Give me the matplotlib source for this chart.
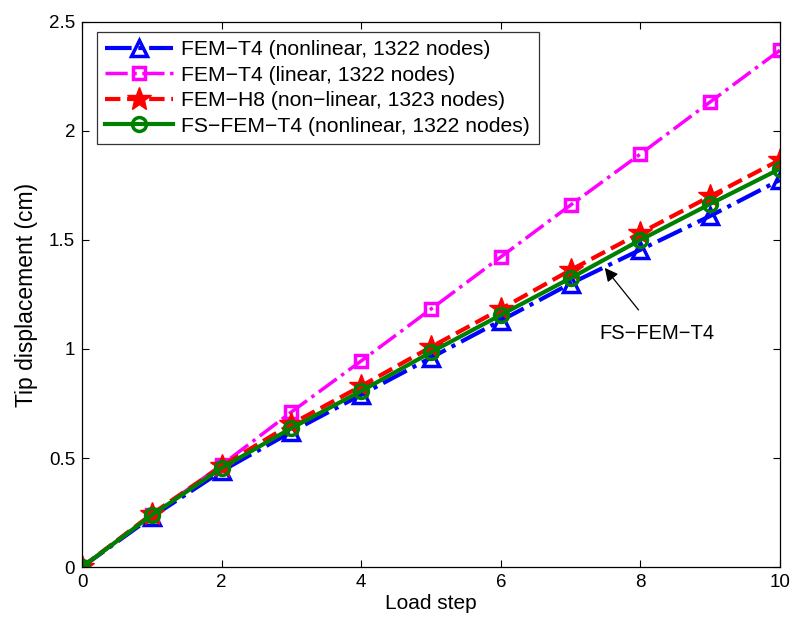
import matplotlib
matplotlib.use("Agg")
import matplotlib.pyplot as plt
import numpy as np

plt.rcParams['font.family'] = ['Liberation Sans', 'DejaVu Sans']

load_step = [0, 1, 2, 3, 4, 5, 6, 7, 8, 9, 10]
fem_t4_nonlinear = [0.0, 0.23, 0.44, 0.62, 0.79, 0.96, 1.13, 1.30, 1.455, 1.61, 1.775]
fem_t4_linear = [0.0, 0.237, 0.468, 0.711, 0.945, 1.183, 1.422, 1.66, 1.894, 2.133, 2.37]
fem_h8_nonlinear = [0.0, 0.243, 0.463, 0.656, 0.83, 1.009, 1.183, 1.362, 1.532, 1.70, 1.867]
fs_fem_t4 = [0.0, 0.238, 0.454, 0.637, 0.807, 0.985, 1.156, 1.325, 1.50, 1.665, 1.826]

labels = [
    "FEM\u2212T4 (nonlinear, 1322 nodes)",
    "FEM\u2212T4 (linear, 1322 nodes)",
    "FEM\u2212H8 (non\u2212linear, 1323 nodes)",
    "FS\u2212FEM\u2212T4 (nonlinear, 1322 nodes)",
]

fig = plt.figure(figsize=(7.91, 6.28), dpi=100)
ax = fig.add_axes([0.1037, 0.0971, 0.8823, 0.868])

ax.plot(load_step, fem_t4_nonlinear, color='blue', linestyle='-.', linewidth=3,
        marker='^', markersize=12, markerfacecolor='none', markeredgewidth=2.5,
        label=labels[0])
ax.plot(load_step, fem_t4_linear, color='magenta', linestyle='-.', linewidth=2.5,
        marker='s', markersize=8.5, markerfacecolor='none', markeredgewidth=2.5,
        label=labels[1])
ax.plot(load_step, fem_h8_nonlinear, color='red', linestyle='--', linewidth=3,
        marker='*', markersize=18, markerfacecolor='red', markeredgecolor='red',
        label=labels[2])
ax.plot(load_step, fs_fem_t4, color='green', linestyle='-', linewidth=3,
        marker='o', markersize=10, markerfacecolor='none', markeredgewidth=2.5,
        label=labels[3])

ax.annotate("FS\u2212FEM\u2212T4", xy=(7.49, 1.372), xytext=(8.24, 1.073),
            ha='center', va='center', fontsize=14.5,
            arrowprops=dict(arrowstyle='-|>', color='black', lw=0.9,
                            mutation_scale=20, shrinkA=10, shrinkB=0))

ax.set_xlim(0, 10)
ax.set_ylim(0, 2.5)
ax.set_xticks([0, 2, 4, 6, 8, 10])
ax.set_yticks([0, 0.5, 1, 1.5, 2, 2.5])
ax.set_yticklabels(['0', '0.5', '1', '1.5', '2', '2.5'])
ax.tick_params(direction='in', top=True, right=True, labelsize=13.5,
               length=5, width=0.8, pad=5)
for s in ax.spines.values():
    s.set_linewidth(0.9)

ax.set_xlabel("Load step", fontsize=15, labelpad=2)
ax.set_ylabel("Tip displacement (cm)", fontsize=16.5, labelpad=8)

leg = ax.legend(loc='upper left', fontsize=15.2, frameon=True, fancybox=False,
                edgecolor='black', handlelength=3.2, borderpad=0.4,
                labelspacing=0.31, handletextpad=0.4, borderaxespad=0,
                bbox_to_anchor=(0.0215, 0.982))
leg.get_frame().set_linewidth(0.9)

fig.savefig("out.png", dpi=100)
